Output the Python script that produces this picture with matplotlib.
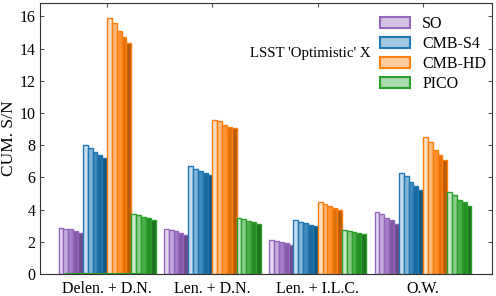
import matplotlib.pyplot as plt
import matplotlib.colors as mcolors
import numpy as np

plt.rcParams["font.family"] = ["Liberation Serif", "DejaVu Serif"]
plt.rcParams["font.size"] = 11.5

categories = ["Delen. + D.N.", "Len. + D.N.", "Len. + I.L.C.", "O.W."]
experiments = ["SO", "CMB-S4", "CMB-HD", "PICO"]
colors = ["#9467bd", "#1f77b4", "#ff7f0e", "#2ca02c"]

# cumulative S/N, 5 steps per experiment, per category
so = [[2.88, 2.83, 2.77, 2.68, 2.55],
      [2.80, 2.73, 2.66, 2.57, 2.45],
      [2.13, 2.06, 2.00, 1.93, 1.83],
      [3.85, 3.73, 3.50, 3.35, 3.12]]
s4 = [[8.00, 7.82, 7.58, 7.39, 7.20],
      [6.68, 6.55, 6.40, 6.28, 6.13],
      [3.33, 3.23, 3.15, 3.06, 2.97],
      [6.27, 6.08, 5.70, 5.47, 5.22]]
hd = [[15.92, 15.60, 15.08, 14.72, 14.35],
      [9.58, 9.48, 9.27, 9.16, 9.04],
      [4.45, 4.38, 4.24, 4.12, 4.00],
      [8.48, 8.18, 7.70, 7.42, 7.07]]
pico = [[3.74, 3.64, 3.54, 3.46, 3.34],
        [3.47, 3.39, 3.30, 3.21, 3.12],
        [2.75, 2.68, 2.61, 2.55, 2.46],
        [5.08, 4.94, 4.63, 4.45, 4.22]]
values = [so, s4, hd, pico]

# light -> dark shades of each colour
def shades(c):
    rgb = np.array(mcolors.to_rgb(c))
    out = []
    for f in [0.75, 0.45, 0.15]:
        out.append(rgb + (1 - rgb) * f)
    for f in [0.12, 0.28]:
        out.append(rgb * (1 - f))
    return out

fig = plt.figure(figsize=(4.96, 2.96), dpi=100)
ax = fig.add_axes([0.081, 0.074, 0.911, 0.916])

x = np.arange(len(categories))
gw = 0.23
sw = gw / 5
for k, name in enumerate(experiments):
    sh = shades(colors[k])
    for i in range(5):
        h = [values[k][c][i] for c in range(len(categories))]
        ax.bar(x - 0.46 + k * gw + i * sw, h, width=sw, align="edge",
               color=sh[i], edgecolor=colors[k], linewidth=1.0)
    ax.bar([0], [0], color=mcolors.to_rgba(colors[k], 0.4), edgecolor=colors[k],
           linewidth=1.5, label=name)

ax.set_xticks(x)
ax.set_xticklabels(categories)
ax.set_xlim(-0.635, 3.655)
ax.set_ylim(0, 16.83)
ax.set_yticks(range(0, 17, 2))
ax.set_ylabel("CUM. S/N", fontsize=12.5, labelpad=2)
ax.tick_params(direction="in", top=True, right=True, length=3, color="#555555")
ax.tick_params(axis="x", bottom=False, pad=5)
for s in ax.spines.values():
    s.set_color("#333333")

ax.legend(loc="upper left", bbox_to_anchor=(0.752, 0.952), frameon=False,
          borderpad=0, borderaxespad=0, handlelength=1.9, handleheight=0.63,
          handletextpad=0.75, labelspacing=0.25, fontsize=11.5)
ax.text(0.597, 0.815, "LSST 'Optimistic' X", transform=ax.transAxes,
        ha="center", va="center", fontsize=10.7)

fig.savefig("out.png", dpi=100)
